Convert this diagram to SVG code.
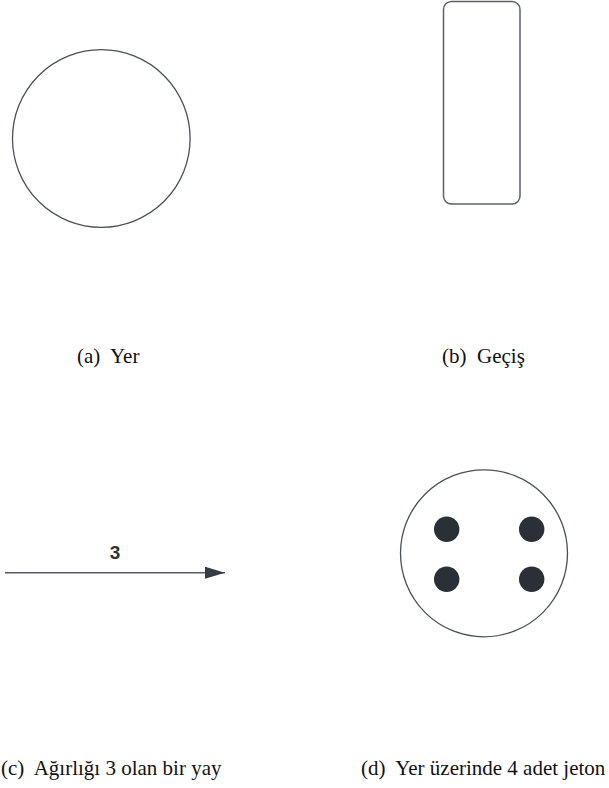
<svg xmlns="http://www.w3.org/2000/svg" width="609" height="788" viewBox="0 0 609 788">
<defs>
<style>
.shape{fill:#ffffff;stroke:#4b5058;stroke-width:1.3}
.tok{fill:#2b2f36}
.cap{font-family:"Liberation Serif","Times New Roman",serif;font-size:21px;fill:#111111}
.lbl{font-family:"Liberation Sans",Arial,sans-serif;font-size:19px;font-weight:bold;fill:#333333;text-anchor:middle}
.edge{stroke:#555a62;stroke-width:1.5;fill:none}
</style>
<marker id="ah" markerWidth="20" markerHeight="12" refX="20" refY="6" orient="auto" markerUnits="userSpaceOnUse">
<path d="M0,0 L20,6 L0,12 Z" fill="#363b44"/>
</marker>
</defs>
<rect width="609" height="788" fill="#ffffff"/>
<g id="place">
<circle class="shape" cx="101.3" cy="138.5" r="88.8"/>
</g>
<g id="transition">
<rect class="shape" x="443.5" y="1.5" width="76.5" height="202.5" rx="8" ry="8" style="stroke:#5c6168;stroke-width:1.5"/>
</g>
<g id="connectors">
<line class="edge" x1="5" y1="572.7" x2="225" y2="572.7" marker-end="url(#ah)"/>
<text class="lbl" x="115" y="559.3">3</text>
</g>
<g id="marked-place">
<circle class="shape" cx="484" cy="553.3" r="83.5"/>
<circle class="tok" cx="446.7" cy="529.3" r="12.7"/>
<circle class="tok" cx="531.7" cy="529.3" r="12.7"/>
<circle class="tok" cx="446.7" cy="579.3" r="12.7"/>
<circle class="tok" cx="531.7" cy="579.3" r="12.7"/>
</g>
<g id="captions">
<text class="cap" x="77" y="362.7" xml:space="preserve">(a)  Yer</text>
<text class="cap" x="442" y="362.7" xml:space="preserve">(b)  Geçiş</text>
<text class="cap" x="1" y="774.7" xml:space="preserve">(c)  Ağırlığı 3 olan bir yay</text>
<text class="cap" x="361" y="774.7" xml:space="preserve">(d)  Yer üzerinde 4 adet jeton</text>
</g>
</svg>
